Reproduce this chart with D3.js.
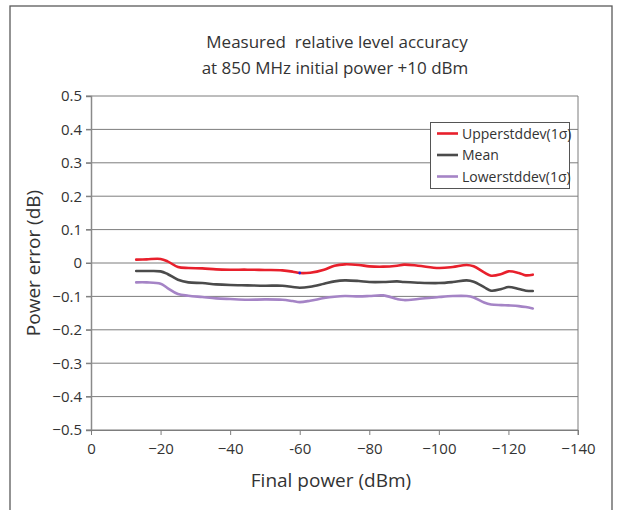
<!DOCTYPE html>
<html><head><meta charset="utf-8">
<script src="https://cdn.jsdelivr.net/npm/d3@7/dist/d3.min.js"></script>
<style>body{margin:0;background:#fff;}svg{display:block;font-family:"Open Sans","Liberation Sans",sans-serif;}text{white-space:pre;}</style>
</head><body>
<svg id="c" width="617" height="510"></svg>
<script>
const finalPower = [-13,-16,-20,-22,-25,-28,-32,-36,-40,-45,-50,-55,-58,-60,-63,-67,-70,-73,-77,-80,-84,-88,-90,-94,-100,-104,-108,-110,-113,-115,-118,-120,-123,-125,-127];
const upperStd = [0.010,0.011,0.012,0.005,-0.012,-0.015,-0.016,-0.019,-0.020,-0.020,-0.021,-0.022,-0.026,-0.030,-0.029,-0.020,-0.008,-0.004,-0.006,-0.010,-0.011,-0.008,-0.005,-0.008,-0.015,-0.012,-0.006,-0.010,-0.028,-0.038,-0.033,-0.025,-0.030,-0.037,-0.035];
const meanVals = [-0.024,-0.024,-0.025,-0.033,-0.050,-0.058,-0.060,-0.064,-0.066,-0.067,-0.068,-0.068,-0.072,-0.074,-0.071,-0.062,-0.055,-0.052,-0.054,-0.057,-0.057,-0.055,-0.057,-0.059,-0.060,-0.057,-0.052,-0.056,-0.072,-0.083,-0.078,-0.072,-0.078,-0.083,-0.084];
const lowerStd = [-0.058,-0.058,-0.062,-0.075,-0.093,-0.098,-0.102,-0.106,-0.108,-0.110,-0.109,-0.110,-0.114,-0.117,-0.113,-0.105,-0.101,-0.099,-0.100,-0.099,-0.097,-0.108,-0.111,-0.108,-0.102,-0.099,-0.099,-0.103,-0.118,-0.124,-0.126,-0.127,-0.129,-0.132,-0.136];
const seriesNames = ["Upperstddev(1\u03c3)","Mean","Lowerstddev(1\u03c3)"];
const xTicks = [0,-20,-40,-60,-80,-100,-120,-140];
const xTickLabels = ["0","\u221220","\u221240","-60","\u221280","\u2212100","\u2212120","\u2212140"];
const yTicks = [0.5,0.4,0.3,0.2,0.1,0,-0.1,-0.2,-0.3,-0.4,-0.5];
const yTickLabels = ["0.5","0.4","0.3","0.2","0.1","0","\u22120.1","\u22120.2","\u22120.3","\u22120.4","\u22120.5"];
const markerPoint = {x:-60, y:-0.030};

const svg = d3.select("#c");
const colors = ["#e8202c","#4b4b4b","#a584c6"];
const x = d3.scaleLinear().domain([0,-140]).range([91,578]);
const y = d3.scaleLinear().domain([-0.5,0.5]).range([430,96]);

// outer frame
svg.append("rect").attr("x",10).attr("y",6).attr("width",602).attr("height",520)
  .attr("fill","none").attr("stroke","#5a5a5a").attr("stroke-width",1.3);

// title
svg.append("text").attr("x",337).attr("y",48).attr("text-anchor","middle")
  .attr("font-size",17).attr("fill","#333").text("Measured  relative level accuracy");
svg.append("text").attr("x",335).attr("y",74).attr("text-anchor","middle")
  .attr("font-size",17).attr("fill","#333").text("at 850 MHz initial power +10 dBm");

// gridlines
svg.append("g").selectAll("line").data(yTicks).join("line")
  .attr("x1",86).attr("x2",578).attr("y1",d=>y(d)).attr("y2",d=>y(d))
  .attr("stroke","#7d7d7d").attr("stroke-width",1);
// right border
svg.append("line").attr("x1",578).attr("x2",578).attr("y1",96).attr("y2",435)
  .attr("stroke","#7d7d7d").attr("stroke-width",1);

// y axis
const yAxis = d3.axisLeft(y).tickValues(yTicks).tickFormat((d,i)=>yTickLabels[i]).tickSize(5).tickPadding(4);
const gy = svg.append("g").attr("transform","translate(91,0)").call(yAxis);
gy.select(".domain").attr("stroke","#8a8a8a").attr("stroke-width",1.5);
gy.selectAll(".tick line").attr("stroke","#7d7d7d");
gy.selectAll("text").attr("font-size",15).attr("fill","#333").attr("font-family","'Open Sans',sans-serif");

// x axis
const xAxis = d3.axisBottom(x).tickValues(xTicks).tickFormat((d,i)=>xTickLabels[i]).tickSize(5).tickPadding(8);
const gx = svg.append("g").attr("transform","translate(0,430)").call(xAxis);
gx.select(".domain").attr("stroke","#7d7d7d").attr("stroke-width",1);
gx.selectAll(".tick line").attr("stroke","#7d7d7d");
gx.selectAll("text").attr("font-size",15).attr("fill","#333").attr("font-family","'Open Sans',sans-serif");

// axis titles
svg.append("text").attr("transform","translate(40,263) rotate(-90)").attr("text-anchor","middle")
  .attr("font-size",19).attr("fill","#333").text("Power error (dB)");
svg.append("text").attr("x",331).attr("y",487).attr("text-anchor","middle")
  .attr("font-size",19).attr("fill","#333").text("Final power (dBm)");

// lines
const allSeries = [upperStd, meanVals, lowerStd];
const line = d3.line().x((d,i)=>x(finalPower[i])).y(d=>y(d)).curve(d3.curveCatmullRom.alpha(0.5));
svg.append("g").selectAll("path").data(allSeries).join("path")
  .attr("d",d=>line(d)).attr("fill","none").attr("stroke",(d,i)=>colors[i])
  .attr("stroke-width",2.6).attr("stroke-linejoin","round").attr("stroke-linecap","round");

svg.append("circle").attr("cx",x(markerPoint.x)).attr("cy",y(markerPoint.y)).attr("r",1.4).attr("fill","#2020e0");

// legend
const lg = svg.append("g");
lg.append("rect").attr("x",430.5).attr("y",122.5).attr("width",139).attr("height",66)
  .attr("fill","#fff").attr("stroke","#555").attr("stroke-width",1);
const ly = [133.5,155,176.5];
seriesNames.forEach((n,i)=>{
  lg.append("line").attr("x1",437).attr("x2",458).attr("y1",ly[i]).attr("y2",ly[i])
    .attr("stroke",colors[i]).attr("stroke-width",2.6);
  lg.append("text").attr("x",462).attr("y",ly[i]+5).attr("font-size",14).attr("fill","#333").text(n);
});
</script>
</body></html>
